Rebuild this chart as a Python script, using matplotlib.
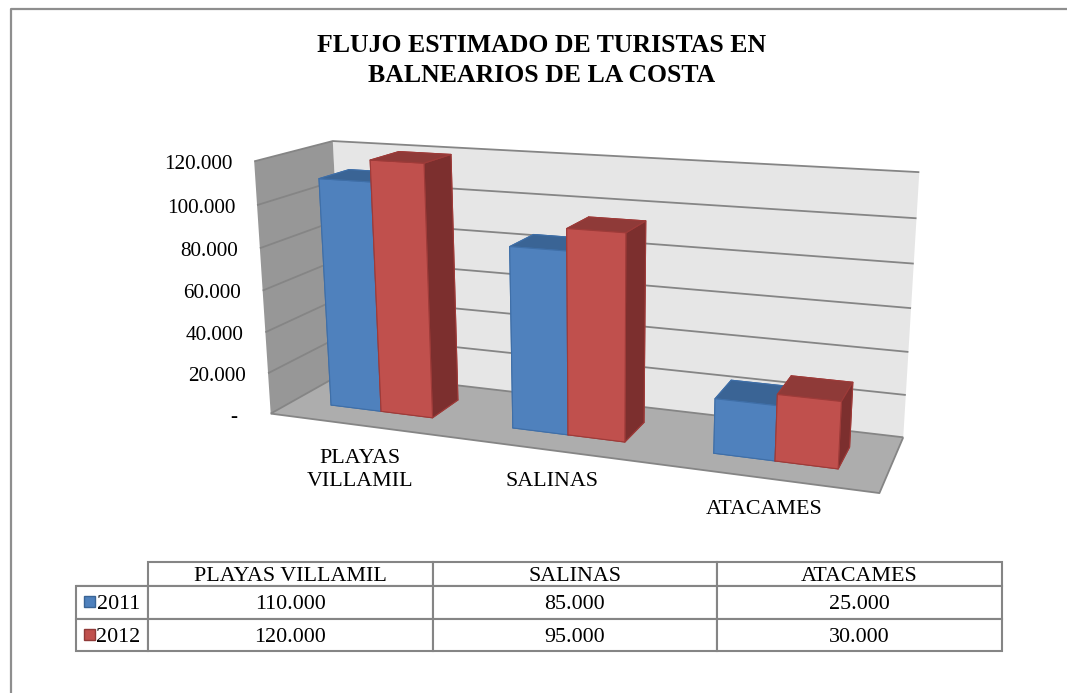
import numpy as np
import matplotlib
matplotlib.use("Agg")
import matplotlib.pyplot as plt
from matplotlib.patches import Rectangle
from mpl_toolkits.mplot3d.art3d import Poly3DCollection, Line3DCollection

plt.rcParams["font.family"] = ["Liberation Serif", "DejaVu Serif"]

title = "FLUJO ESTIMADO DE TURISTAS EN\nBALNEARIOS DE LA COSTA"
places = ["PLAYAS VILLAMIL", "SALINAS", "ATACAMES"]
place_labels = ["PLAYAS\nVILLAMIL", "SALINAS", "ATACAMES"]
years = ["2011", "2012"]
values_2011 = [110000, 85000, 25000]
values_2012 = [120000, 95000, 30000]
ticks = [0, 20000, 40000, 60000, 80000, 100000, 120000]

ZMAX = 120000
BAR_W = 0.285
Y0, Y1 = 0.3, 0.7
XL, XC, XR = 0.5 - BAR_W, 0.5, 0.5 + BAR_W

# world (group x, depth, height/ZMAX) -> picture pixel, used to fit the camera of the old chart
calib = [
    (0, 0, 1, 254, 161), (0, 1, 1, 333, 141), (3, 1, 1, 919, 172),
    (0, 0, 0, 271, 414), (3, 0, 0, 881, 493), (3, 1, 0, 903, 437),
    (3, 1, 100/120, 917, 219),
    (XL, Y0, 0, 331, 405), (XC, Y0, 0, 381, 411), (XR, Y0, 0, 433, 418),
    (XR, Y1, 0, 458, 400),
    (XL, Y0, 110/120, 319, 179), (XC, Y0, 1, 370, 160), (XR, Y0, 1, 425, 163),
    (XR, Y1, 1, 452, 154), (XC, Y1, 1, 397, 152),
    (1 + XL, Y0, 0, 512, 428), (1 + XC, Y0, 0, 568, 435), (1 + XR, Y0, 0, 625, 442),
    (1 + XL, Y0, 85/120, 510, 247), (1 + XC, Y0, 95/120, 567, 228),
    (2 + XL, Y0, 0, 713, 453), (2 + XC, Y0, 0, 775, 461), (2 + XR, Y0, 0, 838, 469),
    (2 + XR, Y1, 0, 851, 447),
    (2 + XL, Y0, 25/120, 715, 398), (2 + XC, Y0, 30/120, 777, 395), (2 + XR, Y0, 30/120, 839, 402),
    (2 + XR, Y1, 30/120, 853, 382),
]


def fit_camera(pts):
    A, b = [], []
    for x, y, z, u, v in pts:
        A.append([x, y, z, 1, 0, 0, 0, 0, -u*x, -u*y, -u*z])
        A.append([0, 0, 0, 0, x, y, z, 1, -v*x, -v*y, -v*z])
        b += [u, v]
    p = np.linalg.lstsq(np.array(A, float), np.array(b, float), rcond=None)[0]
    return np.array([
        [p[0], p[1], p[2]/ZMAX, p[3]],
        [p[4], p[5], p[6]/ZMAX, p[7]],
        [0, 0, 0, -1],  # tz = -1/w, grows with the distance from the camera
        [p[8], p[9], p[10]/ZMAX, 1],
    ])


M = fit_camera(calib)


def to_px(x, y, z):
    w = M @ np.array([x, y, z, 1.0])
    return w[0]/w[3], w[1]/w[3]


fig = plt.figure(figsize=(10.67, 6.93), dpi=100)
ax = fig.add_axes([0, 0, 1, 1], projection="3d", computed_zorder=False)
ax.get_proj = lambda: M
ax.apply_aspect = lambda position=None: None
ax.set_axis_off()
ax.patch.set_visible(False)

floor = [(0, 0, 0), (3, 0, 0), (3, 1, 0), (0, 1, 0)]
side = [(0, 0, 0), (0, 1, 0), (0, 1, ZMAX), (0, 0, ZMAX)]
back = [(0, 1, 0), (3, 1, 0), (3, 1, ZMAX), (0, 1, ZMAX)]
ax.add_collection3d(Poly3DCollection([back], facecolor="#E6E6E6", edgecolor="none", zorder=1))
ax.add_collection3d(Poly3DCollection([side], facecolor="#979797", edgecolor="none", zorder=1))
ax.add_collection3d(Poly3DCollection([floor], facecolor="#ADADAD", edgecolor="none", zorder=2))

segs = []
for t in ticks[1:]:
    segs.append([(0, 0, t), (0, 1, t), (3, 1, t)])
segs.append([(0, 0, 0), (3, 0, 0), (3, 1, 0)])
segs.append([(0, 0, 0), (0, 1, 0), (3, 1, 0)])
ax.add_collection3d(Line3DCollection(segs, colors="#858585", linewidths=1.3, zorder=3))

x = np.arange(len(places))
# face order in bar3d: -z, +z, -y, +y, -x, +x
blue_faces = ["#4F81BD", "#3A6495", "#4F81BD", "#3A6495", "#3A6495", "#3A6495"]
red_faces = ["#C0504D", "#8F3A38", "#C0504D", "#7C2F2E", "#7C2F2E", "#7C2F2E"]
blue_bars = ax.bar3d(x + XL, np.full(3, Y0), np.zeros(3), BAR_W, Y1 - Y0, values_2011,
                     color=blue_faces*3, shade=False, edgecolor="#3F6FA8", linewidth=0.8)
blue_bars.set_zorder(5)
red_bars = ax.bar3d(x + XC, np.full(3, Y0), np.zeros(3), BAR_W, Y1 - Y0, values_2012,
                    color=red_faces*3, shade=False, edgecolor="#9E3B39", linewidth=0.8)
red_bars.set_zorder(6)

ax.viewLim.intervalx = (0, 1067)
ax.viewLim.intervaly = (693, 0)

# overlay in picture pixels for the text, the data table and the frame
ov = fig.add_axes([0, 0, 1, 1])
ov.set_xlim(0, 1067)
ov.set_ylim(693, 0)
ov.axis("off")

ov.plot([10.5, 10.5, 1067], [693, 8.5, 8.5], color="#8E8E8E", lw=1.6, clip_on=False)
ov.text(542, 60.5, title, ha="center", va="center", fontsize=18.5, fontweight="bold", linespacing=1.36)

for t in ticks:
    px, py = to_px(0, 0, t)
    if t == 0:
        ov.text(234, py + 4, "-", ha="center", va="center", fontsize=15.2)
    else:
        ov.text(px - 22, py + 3, f"{t:,}".replace(",", "."), ha="right", va="center", fontsize=15.2)

for lab, (lx, ly) in zip(place_labels, [(360, 470), (552, 482), (764, 510)]):
    ov.text(lx, ly, lab, ha="center", va="center", fontsize=15.8, linespacing=1.25)

fmt = lambda v: f"{v:,}".replace(",", ".")
cells = [[""] + places,
         [years[0]] + [fmt(v) for v in values_2011],
         [years[1]] + [fmt(v) for v in values_2012]]
col_w = [72, 284.5, 284.5, 285]
row_h = [23.5, 33, 32]
tab = ov.table(cellText=cells, colWidths=[w/926 for w in col_w], loc="center", cellLoc="center",
               bbox=[76/1067, 1 - 650.5/693, 926/1067, 88.5/693])
tab.auto_set_font_size(False)
tab.set_fontsize(15.8)
for (r, c), cell in tab.get_celld().items():
    cell.set_height(row_h[r]/88.5)
    cell.set_edgecolor("#858585")
    cell.set_linewidth(1.5)
    cell.PAD = 0.03
    cell.set_text_props(va="center_baseline")
    if c == 0 and r > 0:
        cell.set_text_props(ha="right")
        cell.PAD = 0.11
tab[(0, 0)].visible_edges = "B"

for ky, fc, ec in [(601, "#4F81BD", "#3A6495"), (634, "#C0504D", "#8F3A38")]:
    ov.add_patch(Rectangle((83.5, ky - 5.5), 11, 11, facecolor=fc, edgecolor=ec, lw=1.0, zorder=5))

fig.savefig("out.png", dpi=100)
